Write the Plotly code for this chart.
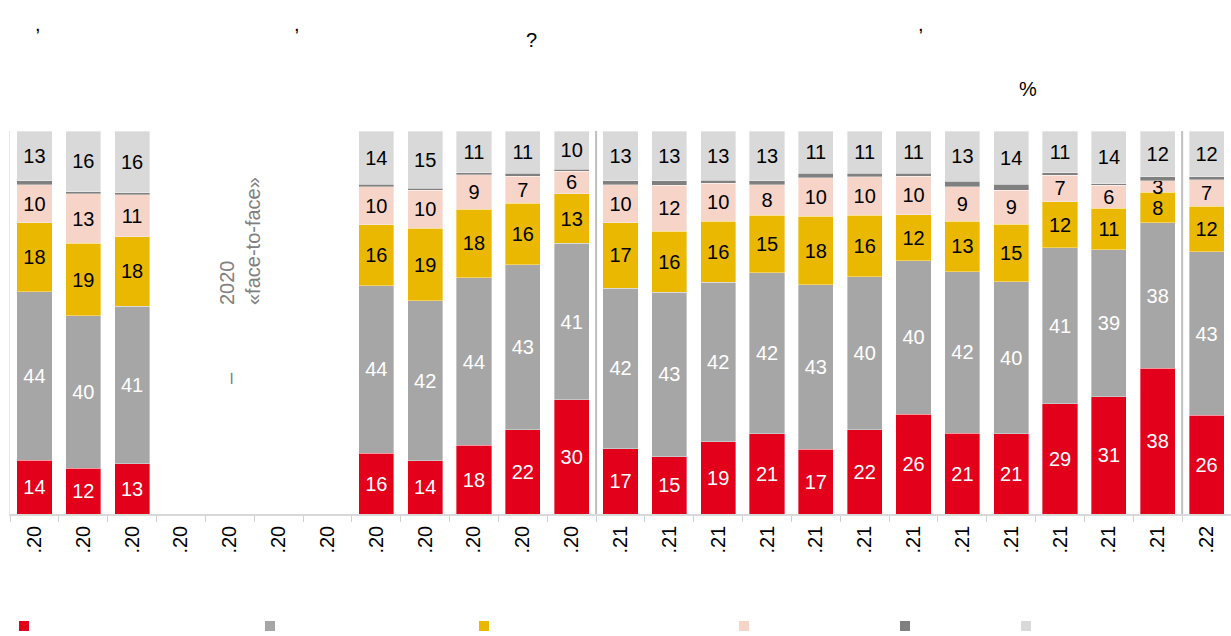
import plotly.graph_objects as go

# ---- data ----
tick_labels = [".20"] * 12 + [".21"] * 12 + [".22"]
red_vals    = [14, 12, 13, None, None, None, None, 16, 14, 18, 22, 30, 17, 15, 19, 21, 17, 22, 26, 21, 21, 29, 31, 38, 26]
gray_vals   = [44, 40, 41, None, None, None, None, 44, 42, 44, 43, 41, 42, 43, 42, 42, 43, 40, 40, 42, 40, 41, 39, 38, 43]
yellow_vals = [18, 19, 18, None, None, None, None, 16, 19, 18, 16, 13, 17, 16, 16, 15, 18, 16, 12, 13, 15, 12, 11, 8, 12]
pink_vals   = [10, 13, 11, None, None, None, None, 10, 10, 9, 7, 6, 10, 12, 10, 8, 10, 10, 10, 9, 9, 7, 6, 3, 7]
dark_vals   = [1, 0.5, 0.5, None, None, None, None, 0.6, 0.6, 0.5, 0.8, 0.5, 1, 1.2, 0.8, 1, 1.3, 1, 0.8, 1.5, 1.5, 0.6, 0.4, 1, 0.8]
light_vals  = [13, 16, 16, None, None, None, None, 14, 15, 11, 11, 10, 13, 13, 13, 13, 11, 11, 11, 13, 14, 11, 14, 12, 12]

series = [
    ("s1", red_vals, "#E2001A", "white", True),
    ("s2", gray_vals, "#A6A6A6", "white", True),
    ("s3", yellow_vals, "#EAB800", "black", True),
    ("s4", pink_vals, "#F6D5C8", "black", True),
    ("s5", dark_vals, "#808080", "black", False),
    ("s6", light_vals, "#D9D9D9", "black", True),
]

W, H = 1231, 636
L, R, T, B = 10, 0, 131, 122
pw, ph = W - L - R, H - T - B

def px(x):
    return (x - L) / pw

def py(y):
    return (H - B - y) / ph

xs = list(range(len(tick_labels)))
fig = go.Figure()
FONT = "Arial, Liberation Sans, sans-serif"
for name, vals, col, tcol, show in series:
    txt = [("" if (v is None or not show) else str(v)) for v in vals]
    fig.add_trace(go.Bar(
        x=xs, y=vals, name=name, marker=dict(color=col, line=dict(color="rgba(255,255,255,0.6)", width=0.6)),
        text=txt, texttemplate="%{text}", textposition="inside", insidetextanchor="middle",
        textangle=0, textfont=dict(color=tcol, size=20, family=FONT),
        constraintext="none", showlegend=False, hoverinfo="skip",
    ))

fig.update_layout(
    width=W, height=H, barmode="stack", barnorm="percent", bargap=0.28,
    margin=dict(l=L, r=R, t=T, b=B, pad=0),
    paper_bgcolor="white", plot_bgcolor="white",
    uniformtext=dict(minsize=20, mode="show"),
    font=dict(family=FONT, color="black"),
)
fig.update_xaxes(
    range=[-0.5, len(xs) - 0.5], tickvals=xs, ticktext=tick_labels, tickangle=-90,
    tickfont=dict(size=20, color="black", family=FONT),
    ticks="outside", ticklen=2, tickcolor="rgba(0,0,0,0)",
    minor=dict(ticks="outside", tick0=-0.5, dtick=1, ticklen=6, tickcolor="#D0D0D0", tickwidth=1, showgrid=False),
    showline=True, linecolor="#D9D9D9", linewidth=1.5, showgrid=False, zeroline=False,
)
fig.update_yaxes(range=[0, 100], showticklabels=False, showgrid=False, zeroline=False,
                 showline=True, linecolor="#E6E6E6", linewidth=1)

# separators
for xv in [11.5, 23.5]:
    fig.add_shape(type="line", xref="x", yref="paper", x0=xv, x1=xv, y0=0, y1=1,
                  line=dict(color="#BFBFBF", width=2))

# title remnants (punctuation visible in reference)
for ch, x, y in [(",", 38, 24), (",", 297, 24), ("?", 531, 40), (",", 921, 24), ("%", 1028, 89)]:
    fig.add_annotation(text=ch, xref="paper", yref="paper", x=px(x), y=py(y), showarrow=False,
                       font=dict(size=20, color="black", family=FONT), xanchor="center", yanchor="middle")

# gap note
fig.add_annotation(text="2020<br>«face-to-face»", xref="paper", yref="paper", x=px(240), y=py(241),
                   textangle=-90, align="left", showarrow=False,
                   font=dict(size=20, color="#808080", family=FONT), xanchor="center", yanchor="middle")
fig.add_annotation(text="–", xref="paper", yref="paper", x=px(230), y=py(378),
                   textangle=-90, showarrow=False,
                   font=dict(size=20, color="#808080", family=FONT), xanchor="center", yanchor="middle")

# legend markers
for (name, vals, col, tcol, show), lx in zip(series, [19, 265, 479, 739, 900, 1021]):
    fig.add_shape(type="rect", xref="paper", yref="paper", x0=px(lx), x1=px(lx + 10),
                  y0=py(631), y1=py(621), fillcolor=col, line=dict(width=0))

fig.write_html("out.html", config={"displayModeBar": False},
               post_script="document.body.style.margin='0';document.body.style.overflow='hidden';")
